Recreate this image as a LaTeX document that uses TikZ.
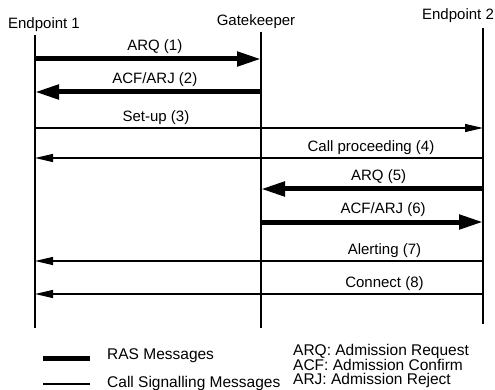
\documentclass[tikz,border=0pt]{standalone}
\usepackage{fontspec}
\setmainfont{Liberation Sans}
\usetikzlibrary{arrows.meta,positioning}

\begin{document}
\begin{tikzpicture}[
    x=1pt, y=-1pt,
    actor/.style={
        inner sep=0pt,
        font=\fontsize{15}{17}\selectfont
    },
    lifeline/.style={
        line width=1.1pt
    },
    ras/.style={
        -{Triangle[length=24pt,width=14pt]},
        line width=5pt
    },
    callsig/.style={
        -{Triangle[length=18pt,width=8pt]},
        line width=1.2pt
    },
    msg/.style={
        above=3pt,
        inner sep=0pt,
        font=\fontsize{15}{17}\selectfont
    },
    legend/.style={
        inner sep=0pt,
        align=left,
        font=\fontsize{15.5}{14.5}\selectfont
    }
]
\useasboundingbox (0,0) rectangle (495,390);

% Participants
\node[actor] (ep1) at (44,25) {Endpoint 1};
\node[actor] (gk) at (256,22) {Gatekeeper};
\node[actor] (ep2) at (458,16) {Endpoint 2};

% Lifelines
\coordinate (ep1top) at (35,35);
\coordinate (ep1bot) at (35,328);
\coordinate (gktop) at (261,32);
\coordinate (gkbot) at (261,328);
\coordinate (ep2top) at (483,28);
\coordinate (ep2bot) at (483,324);
\draw[lifeline] (ep1top) -- (ep1bot);
\draw[lifeline] (gktop) -- (gkbot);
\draw[lifeline] (ep2top) -- (ep2bot);

% Message rows
\foreach \n/\y in {1/59,2/92,3/128,4/158,5/189,6/222,7/261,8/294}
    \coordinate (row\n) at (0,\y);

% Admission
\draw[ras] (ep1top |- row1) -- (gktop |- row1)
    node[msg, pos=.53] {ARQ (1)};
\draw[ras] (gktop |- row2) -- (ep1top |- row2)
    node[msg, pos=.47] {ACF/ARJ (2)};

% Call set-up
\draw[callsig] (ep1top |- row3) -- (ep2top |- row3)
    node[msg, pos=.27] {Set-up (3)};
\draw[callsig] (ep2top |- row4) -- (ep1top |- row4)
    node[msg, pos=.25] {Call proceeding (4)};

% Admission of endpoint 2
\draw[ras] (ep2top |- row5) -- (gktop |- row5)
    node[msg, pos=.47] {ARQ (5)};
\draw[ras] (gktop |- row6) -- (ep2top |- row6)
    node[msg, pos=.55] {ACF/ARJ (6)};

% Alerting and connect
\draw[callsig] (ep2top |- row7) -- (ep1top |- row7)
    node[msg, pos=.22] {Alerting (7)};
\draw[callsig] (ep2top |- row8) -- (ep1top |- row8)
    node[msg, pos=.22] {Connect (8)};

% Legend
\node[legend, anchor=west] (legras) at (107,356) {RAS Messages};
\node[legend, anchor=west] (legsig) at (107,383) {Call Signalling Messages};
\node[legend, anchor=west] (legabbr) at (293,366) {ARQ: Admission Request\\ACF: Admission Confirm\\ARJ: Admission Reject};
\draw[line width=5pt] ([xshift=-17pt,yshift=-2pt]legras.west) -- ++(-47,0);
\draw[line width=1.2pt] ([xshift=-17pt,yshift=-1pt]legsig.west) -- ++(-47,0);

\end{tikzpicture}
\end{document}
